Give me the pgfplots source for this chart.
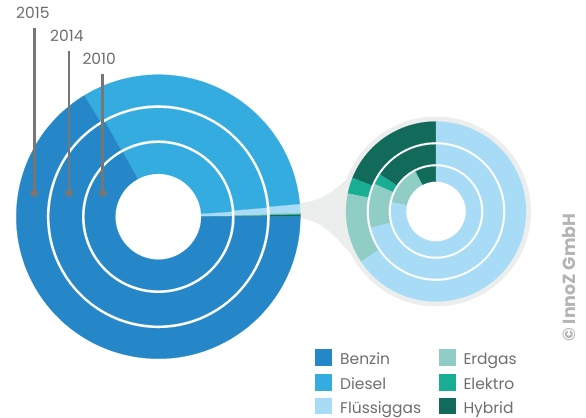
\documentclass[border=0pt]{standalone}
\usepackage{pgfplots}
\pgfplotsset{compat=1.18}
\usepackage{fontspec}
\setmainfont{Poppins}
\definecolor{benzin}{HTML}{2587C8}
\definecolor{diesel}{HTML}{35ACE0}
\definecolor{fluessig}{HTML}{A8DBF5}
\definecolor{erdgas}{HTML}{8FCDC5}
\definecolor{elektro}{HTML}{19AD94}
\definecolor{hybrid}{HTML}{126B5A}
\definecolor{bggrey}{HTML}{ECEEEE}
\definecolor{leader}{HTML}{767676}
\definecolor{txt}{HTML}{6E6E6E}
\definecolor{copy}{HTML}{B4B4B4}

% one annular sector: cx, cy, rin, rout, a1, a2, colour
\newcommand\seg[7]{%
  \pgfmathsetmacro\xa{#1+#4*cos(#5)}\pgfmathsetmacro\ya{#2+#4*sin(#5)}%
  \pgfmathsetmacro\xb{#1+#3*cos(#6)}\pgfmathsetmacro\yb{#2+#3*sin(#6)}%
  \edef\temp{\noexpand\fill[#7, draw=#7, line width=0.2bp] (axis cs:\xa,\ya)
    arc[start angle=#5, end angle=#6, radius=#4bp] -- (axis cs:\xb,\yb)
    arc[start angle=#6, end angle=#5, radius=#3bp] -- cycle;}%
  \temp}
% a ring of shares (percent): cx, cy, rin, rout, start angle, {value/colour,...}
\newcommand\ring[6]{%
  \xdef\cumang{#5}%
  \foreach \v/\c in {#6}{%
    \pgfmathsetmacro\aend{\cumang+3.6*\v}%
    \seg{#1}{#2}{#3}{#4}{\cumang}{\aend}{\c}%
    \xdef\cumang{\aend}%
  }}

\begin{document}
\begin{tikzpicture}
\begin{axis}[width=586bp, height=418bp, scale only axis,
  xmin=0, xmax=586, ymin=0, ymax=418, hide axis, clip=false]

% grey background of the detail donut
\fill[bggrey] (axis cs:296,215) .. controls (axis cs:320,215) and (axis cs:335,228) .. (axis cs:346.7,239)
  -- (axis cs:436,206.5) -- (axis cs:351.4,163.4)
  .. controls (axis cs:338,178) and (axis cs:322,200) .. (axis cs:296,200) -- cycle;
\fill[bggrey] (axis cs:436,206.5) circle[radius=95bp];
\fill[white] (axis cs:436,206.5) circle[radius=90bp];

% main donut: Hybrid, Elektro, Erdgas, Fluessiggas, Diesel, Benzin (percent)
\ring{158.3}{201.3}{111.6}{142}{0}{0.27/hybrid, 0.04/elektro, 0.18/erdgas, 0.95/fluessig, 32.31/diesel, 66.25/benzin}
\ring{158.3}{201.3}{76.5}{108.6}{0}{0.21/hybrid, 0.03/elektro, 0.14/erdgas, 0.95/fluessig, 31.81/diesel, 66.86/benzin}
\ring{158.3}{201.3}{43}{73.5}{0}{0.08/hybrid, 0.01/elektro, 0.16/erdgas, 0.86/fluessig, 31.89/diesel, 67.00/benzin}

% detail donut: share of the small segments (percent)
\ring{436}{206.5}{69.5}{90}{90}{18.9/hybrid, 2.9/elektro, 12.6/erdgas, 65.6/fluessig}
\ring{436}{206.5}{47.5}{67}{90}{15.7/hybrid, 2.6/elektro, 10.6/erdgas, 71.1/fluessig}
\ring{436}{206.5}{30}{45}{90}{7.5/hybrid, 0.2/elektro, 14.0/erdgas, 78.3/fluessig}

% leader lines for the years
\addplot[color=leader, line width=2.6bp, mark=*, mark size=3.6bp, mark indices={2},
  mark options={solid, fill=leader, draw=leader, line width=0pt}] coordinates {(34.3,390.3) (34.3,225.3)};
\addplot[color=leader, line width=2.6bp, mark=*, mark size=3.6bp, mark indices={2},
  mark options={solid, fill=leader, draw=leader, line width=0pt}] coordinates {(69,367.3) (69,225.3)};
\addplot[color=leader, line width=2.6bp, mark=*, mark size=3.6bp, mark indices={2},
  mark options={solid, fill=leader, draw=leader, line width=0pt}] coordinates {(102.7,344) (102.7,225.3)};

\node[anchor=base west, inner sep=0, text=txt, font=\fontsize{15.5bp}{18bp}\selectfont] at (axis cs:16,399.7) {2015};
\node[anchor=base west, inner sep=0, text=txt, font=\fontsize{15.5bp}{18bp}\selectfont] at (axis cs:50,376.3) {2014};
\node[anchor=base west, inner sep=0, text=txt, font=\fontsize{15.5bp}{18bp}\selectfont] at (axis cs:82.3,353.7) {2010};

% legend
\fill[benzin] (axis cs:315,51.8) rectangle (axis cs:331.7,68.5);
\fill[diesel] (axis cs:315,27.3) rectangle (axis cs:331.7,44);
\fill[fluessig] (axis cs:315,3.5) rectangle (axis cs:331.7,20);
\fill[erdgas] (axis cs:439.3,51.8) rectangle (axis cs:455.7,68.5);
\fill[elektro] (axis cs:439.3,27.3) rectangle (axis cs:455.7,44);
\fill[hybrid] (axis cs:439.3,3.5) rectangle (axis cs:455.7,20);
\begin{scope}[every node/.style={anchor=base west, inner sep=0, text=txt, font=\fontsize{15.5bp}{18bp}\selectfont}]
\node at (axis cs:340,53.5) {Benzin};
\node at (axis cs:340,29) {Diesel};
\node at (axis cs:340,5) {Flüssiggas};
\node at (axis cs:463.3,53.5) {Erdgas};
\node at (axis cs:463.3,29) {Elektro};
\node at (axis cs:463.3,5) {Hybrid};
\end{scope}

\node[rotate=90, inner sep=0, text=copy, font=\bfseries\fontsize{17.5bp}{20bp}\selectfont] at (axis cs:569,140.5) {© InnoZ GmbH};
\end{axis}
\pgfresetboundingbox
\useasboundingbox (current axis.south west) rectangle (current axis.north east);
\end{tikzpicture}
\end{document}
